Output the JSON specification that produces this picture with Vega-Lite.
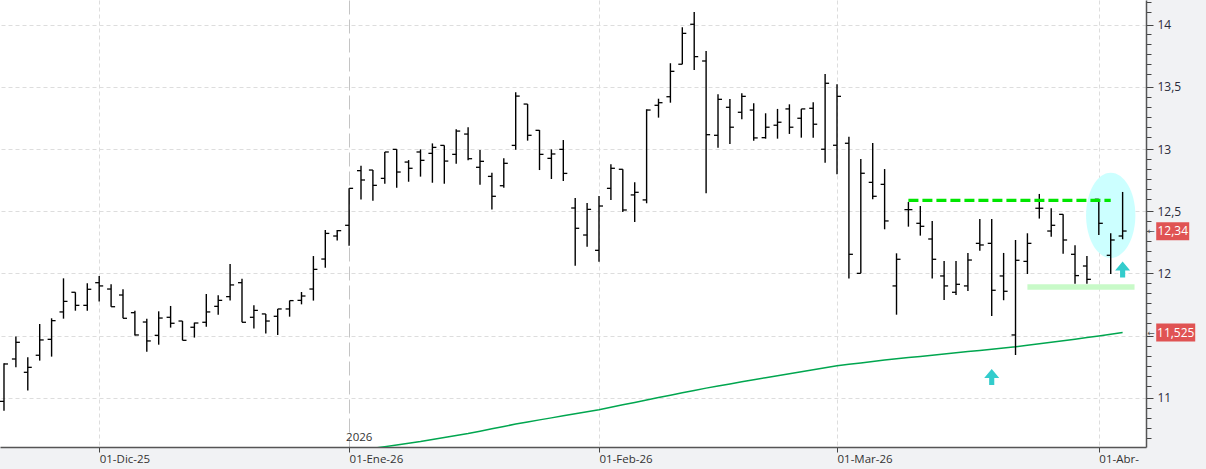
{
"$schema": "https://vega.github.io/schema/vega-lite/v6.json",
"width": 1146, "height": 447,
"autosize": {"type": "none"},
"padding": {"left": 0, "top": 0, "right": 60, "bottom": 22},
"background": "#f1f2f4",
"config": {"view": {"fill": "white", "stroke": null}},
"datasets": {
"bars": [
{"d":"2025-11-19","o":10.973,"h":11.278,"l":10.898,"c":11.273},
{"d":"2025-11-20","o":11.313,"h":11.493,"l":11.246,"c":11.447},
{"d":"2025-11-21","o":11.206,"h":11.327,"l":11.059,"c":11.246},
{"d":"2025-11-24","o":11.343,"h":11.594,"l":11.300,"c":11.466},
{"d":"2025-11-25","o":11.471,"h":11.640,"l":11.332,"c":11.621},
{"d":"2025-11-26","o":11.691,"h":11.961,"l":11.637,"c":11.776},
{"d":"2025-11-27","o":11.849,"h":11.849,"l":11.701,"c":11.744},
{"d":"2025-11-28","o":11.744,"h":11.921,"l":11.701,"c":11.873},
{"d":"2025-12-01","o":11.926,"h":11.980,"l":11.774,"c":11.900},
{"d":"2025-12-02","o":11.875,"h":11.913,"l":11.733,"c":11.733},
{"d":"2025-12-03","o":11.827,"h":11.873,"l":11.640,"c":11.640},
{"d":"2025-12-04","o":11.685,"h":11.701,"l":11.501,"c":11.506},
{"d":"2025-12-05","o":11.610,"h":11.637,"l":11.372,"c":11.458},
{"d":"2025-12-08","o":11.503,"h":11.696,"l":11.428,"c":11.642},
{"d":"2025-12-09","o":11.648,"h":11.739,"l":11.565,"c":11.600},
{"d":"2025-12-10","o":11.618,"h":11.618,"l":11.463,"c":11.463},
{"d":"2025-12-11","o":11.568,"h":11.605,"l":11.485,"c":11.602},
{"d":"2025-12-12","o":11.608,"h":11.835,"l":11.573,"c":11.691},
{"d":"2025-12-15","o":11.736,"h":11.825,"l":11.669,"c":11.784},
{"d":"2025-12-16","o":11.814,"h":12.076,"l":11.782,"c":11.908},
{"d":"2025-12-17","o":11.926,"h":11.958,"l":11.608,"c":11.608},
{"d":"2025-12-18","o":11.648,"h":11.744,"l":11.557,"c":11.704},
{"d":"2025-12-19","o":11.675,"h":11.675,"l":11.517,"c":11.618},
{"d":"2025-12-22","o":11.656,"h":11.715,"l":11.506,"c":11.715},
{"d":"2025-12-23","o":11.715,"h":11.782,"l":11.653,"c":11.782},
{"d":"2025-12-24","o":11.784,"h":11.851,"l":11.752,"c":11.819},
{"d":"2025-12-29","o":11.875,"h":12.140,"l":11.782,"c":12.033},
{"d":"2025-12-30","o":12.116,"h":12.349,"l":12.047,"c":12.322},
{"d":"2025-12-31","o":12.301,"h":12.349,"l":12.264,"c":12.344},
{"d":"2026-01-02","o":12.387,"h":12.684,"l":12.223,"c":12.684},
{"d":"2026-01-05","o":12.826,"h":12.866,"l":12.595,"c":12.751},
{"d":"2026-01-06","o":12.831,"h":12.831,"l":12.585,"c":12.708,"ma":10.595},
{"d":"2026-01-07","o":12.764,"h":12.976,"l":12.721,"c":12.976,"ma":10.609},
{"d":"2026-01-08","o":12.997,"h":12.997,"l":12.689,"c":12.815,"ma":10.623},
{"d":"2026-01-09","o":12.895,"h":12.911,"l":12.737,"c":12.845,"ma":10.637},
{"d":"2026-01-12","o":12.976,"h":12.997,"l":12.778,"c":12.909,"ma":10.650},
{"d":"2026-01-13","o":12.965,"h":13.045,"l":12.729,"c":13.013,"ma":10.666},
{"d":"2026-01-14","o":13.029,"h":13.029,"l":12.721,"c":12.903,"ma":10.682},
{"d":"2026-01-15","o":12.957,"h":13.158,"l":12.882,"c":13.144,"ma":10.698},
{"d":"2026-01-16","o":13.120,"h":13.174,"l":12.909,"c":12.922,"ma":10.714},
{"d":"2026-01-19","o":12.853,"h":12.992,"l":12.713,"c":12.901,"ma":10.733},
{"d":"2026-01-20","o":12.780,"h":12.810,"l":12.513,"c":12.620,"ma":10.752},
{"d":"2026-01-21","o":12.705,"h":12.925,"l":12.689,"c":12.885,"ma":10.771},
{"d":"2026-01-22","o":13.029,"h":13.455,"l":12.994,"c":13.425,"ma":10.790},
{"d":"2026-01-23","o":13.361,"h":13.361,"l":13.067,"c":13.110,"ma":10.807},
{"d":"2026-01-26","o":13.150,"h":13.152,"l":12.831,"c":12.957,"ma":10.824},
{"d":"2026-01-27","o":12.925,"h":12.997,"l":12.759,"c":12.960,"ma":10.840},
{"d":"2026-01-28","o":12.997,"h":13.072,"l":12.743,"c":12.804,"ma":10.857},
{"d":"2026-01-29","o":12.526,"h":12.606,"l":12.063,"c":12.363,"ma":10.873},
{"d":"2026-01-30","o":12.309,"h":12.566,"l":12.215,"c":12.515,"ma":10.890},
{"d":"2026-02-02","o":12.186,"h":12.623,"l":12.095,"c":12.542,"ma":10.906},
{"d":"2026-02-03","o":12.684,"h":12.877,"l":12.591,"c":12.845,"ma":10.926},
{"d":"2026-02-04","o":12.837,"h":12.837,"l":12.494,"c":12.510,"ma":10.945},
{"d":"2026-02-05","o":12.631,"h":12.733,"l":12.414,"c":12.652,"ma":10.964},
{"d":"2026-02-06","o":12.591,"h":13.319,"l":12.564,"c":13.313,"ma":10.984},
{"d":"2026-02-09","o":13.351,"h":13.404,"l":13.252,"c":13.372,"ma":11.003},
{"d":"2026-02-10","o":13.420,"h":13.689,"l":13.372,"c":13.624,"ma":11.022},
{"d":"2026-02-11","o":13.681,"h":13.978,"l":13.681,"c":13.929,"ma":11.042},
{"d":"2026-02-12","o":14.002,"h":14.101,"l":13.635,"c":13.742,"ma":11.060},
{"d":"2026-02-13","o":13.707,"h":13.787,"l":12.644,"c":13.115,"ma":11.079},
{"d":"2026-02-16","o":13.110,"h":13.440,"l":13.011,"c":13.399,"ma":11.096},
{"d":"2026-02-17","o":13.335,"h":13.402,"l":13.040,"c":13.175,"ma":11.113},
{"d":"2026-02-18","o":13.295,"h":13.448,"l":13.239,"c":13.423,"ma":11.130},
{"d":"2026-02-19","o":13.313,"h":13.367,"l":13.067,"c":13.089,"ma":11.147},
{"d":"2026-02-20","o":13.091,"h":13.287,"l":13.083,"c":13.175,"ma":11.162},
{"d":"2026-02-23","o":13.191,"h":13.322,"l":13.083,"c":13.215,"ma":11.179},
{"d":"2026-02-24","o":13.322,"h":13.359,"l":13.121,"c":13.175,"ma":11.195},
{"d":"2026-02-25","o":13.247,"h":13.322,"l":13.091,"c":13.322,"ma":11.211},
{"d":"2026-02-26","o":13.327,"h":13.375,"l":13.091,"c":13.199,"ma":11.227},
{"d":"2026-02-27","o":12.998,"h":13.603,"l":12.890,"c":13.528,"ma":11.243},
{"d":"2026-03-02","o":13.030,"h":13.520,"l":12.797,"c":13.423,"ma":11.258},
{"d":"2026-03-03","o":13.046,"h":13.099,"l":11.959,"c":12.154,"ma":11.270},
{"d":"2026-03-04","o":12.001,"h":12.920,"l":12.001,"c":12.805,"ma":11.281},
{"d":"2026-03-05","o":12.732,"h":13.048,"l":12.596,"c":12.620,"ma":11.292},
{"d":"2026-03-06","o":12.716,"h":12.839,"l":12.355,"c":12.422,"ma":11.304},
{"d":"2026-03-09","o":11.900,"h":12.162,"l":11.669,"c":12.114,"ma":11.315},
{"d":"2026-03-10","o":12.513,"h":12.574,"l":12.376,"c":12.513,"ma":11.325},
{"d":"2026-03-11","o":12.403,"h":12.542,"l":12.304,"c":12.379,"ma":11.334},
{"d":"2026-03-12","o":12.277,"h":12.422,"l":11.959,"c":12.114,"ma":11.344},
{"d":"2026-03-13","o":11.980,"h":12.100,"l":11.787,"c":11.900,"ma":11.354},
{"d":"2026-03-16","o":11.849,"h":12.100,"l":11.827,"c":11.913,"ma":11.363},
{"d":"2026-03-17","o":11.900,"h":12.165,"l":11.860,"c":12.108,"ma":11.373},
{"d":"2026-03-18","o":12.242,"h":12.438,"l":12.183,"c":12.229,"ma":11.382},
{"d":"2026-03-19","o":12.242,"h":12.438,"l":11.659,"c":11.865,"ma":11.392},
{"d":"2026-03-20","o":11.980,"h":12.165,"l":11.785,"c":11.857,"ma":11.402},
{"d":"2026-03-23","o":11.506,"h":12.269,"l":11.345,"c":12.106,"ma":11.411},
{"d":"2026-03-24","o":12.098,"h":12.323,"l":11.996,"c":12.242,"ma":11.423},
{"d":"2026-03-25","o":12.524,"h":12.639,"l":12.441,"c":12.524,"ma":11.436},
{"d":"2026-03-26","o":12.341,"h":12.524,"l":12.296,"c":12.387,"ma":11.448},
{"d":"2026-03-27","o":12.475,"h":12.475,"l":12.159,"c":12.269,"ma":11.460},
{"d":"2026-03-30","o":12.154,"h":12.226,"l":11.918,"c":11.983,"ma":11.472},
{"d":"2026-03-31","o":12.060,"h":12.141,"l":11.918,"c":11.953,"ma":11.485},
{"d":"2026-04-01","o":12.596,"h":12.596,"l":12.309,"c":12.403,"ma":11.497},
{"d":"2026-04-02","o":12.146,"h":12.323,"l":11.996,"c":12.269,"ma":11.511},
{"d":"2026-04-07","o":12.301,"h":12.655,"l":12.275,"c":12.341,"ma":11.525}
]
},
"encoding": {
"x": {"field": "d", "type": "ordinal",
 "scale": {"type": "point", "padding": 0.65, "align": 0.258, "domain": ["2025-11-19","2025-11-20","2025-11-21","2025-11-24","2025-11-25","2025-11-26","2025-11-27","2025-11-28","2025-12-01","2025-12-02","2025-12-03","2025-12-04","2025-12-05","2025-12-08","2025-12-09","2025-12-10","2025-12-11","2025-12-12","2025-12-15","2025-12-16","2025-12-17","2025-12-18","2025-12-19","2025-12-22","2025-12-23","2025-12-24","2025-12-29","2025-12-30","2025-12-31","2026-01-02","2026-01-05","2026-01-06","2026-01-07","2026-01-08","2026-01-09","2026-01-12","2026-01-13","2026-01-14","2026-01-15","2026-01-16","2026-01-19","2026-01-20","2026-01-21","2026-01-22","2026-01-23","2026-01-26","2026-01-27","2026-01-28","2026-01-29","2026-01-30","2026-02-02","2026-02-03","2026-02-04","2026-02-05","2026-02-06","2026-02-09","2026-02-10","2026-02-11","2026-02-12","2026-02-13","2026-02-16","2026-02-17","2026-02-18","2026-02-19","2026-02-20","2026-02-23","2026-02-24","2026-02-25","2026-02-26","2026-02-27","2026-03-02","2026-03-03","2026-03-04","2026-03-05","2026-03-06","2026-03-09","2026-03-10","2026-03-11","2026-03-12","2026-03-13","2026-03-16","2026-03-17","2026-03-18","2026-03-19","2026-03-20","2026-03-23","2026-03-24","2026-03-25","2026-03-26","2026-03-27","2026-03-30","2026-03-31","2026-04-01","2026-04-02","2026-04-07","2026-04-08"]},
 "axis": {"title": null, "values": ["2025-12-01","2026-01-02","2026-02-02","2026-03-02","2026-04-01"],
  "labelExpr": "datum.value == '2025-12-01' ? '01-Dic-25' : datum.value == '2026-01-02' ? '01-Ene-26' : datum.value == '2026-02-02' ? '01-Feb-26' : datum.value == '2026-03-02' ? '01-Mar-26' : '01-Abr-'",
  "labelAlign": "left", "labelAngle": 0, "labelFont": "Open Sans", "labelFontSize": 11.5, "labelColor": "#333333",
  "labelPadding": 1, "labelOverlap": false, "labelFlush": false, "labelBound": false,
  "tickSize": 5, "tickColor": "#444444", "domainColor": "#555555", "domainWidth": 1.5,
  "grid": true, "gridWidth": 1,
  "gridColor": {"condition": {"test": "datum.value == '2026-01-02'", "value": "#c4c4c4"}, "value": "#dddddd"},
  "gridDash": {"condition": {"test": "datum.value == '2026-01-02'", "value": [14, 5]}, "value": [4, 3]}
 }
},
"y": {"field": "v", "type": "quantitative", "scale": {"domain": [10.606, 14.197], "nice": false, "zero": false},
  "axis": {"title": null, "orient": "right",
   "values": [10.68,10.76,10.84,10.92,11,11.1,11.18,11.26,11.34,11.42,11.5,11.6,11.68,11.76,11.84,11.92,12,12.1,12.18,12.26,12.34,12.42,12.5,12.6,12.68,12.76,12.84,12.92,13,13.1,13.18,13.26,13.34,13.42,13.5,13.6,13.68,13.76,13.84,13.92,14,14.1,14.18],
   "labelExpr": "abs(datum.value*2 - round(datum.value*2)) < 0.001 && abs(datum.value - 11.5) > 0.001 ? replace(toString(round(datum.value*2)/2), '.', ',') : ''",
   "labelFont": "Open Sans", "labelFontSize": 12, "labelColor": "#2b2b3a", "labelPadding": 4,
   "labelOverlap": false, "labelFlush": false, "labelBound": false,
   "tickSize": {"condition": {"test": "abs(datum.value*2 - round(datum.value*2)) < 0.001", "value": 7}, "value": 5},
   "tickColor": "#444444", "domainColor": "#555555", "domainWidth": 1.5,
   "grid": true, "gridColor": "#dddddd", "gridDash": [4, 3], "gridWidth": 1,
   "gridOpacity": {"condition": {"test": "abs(datum.value*2 - round(datum.value*2)) < 0.001", "value": 1}, "value": 0}
  }}
},
"layer": [
{
 "data": {"values": [{"d": "2026-04-02", "v": 12.467}]},
 "mark": {"type": "point", "filled": true, "opacity": 1, "color": "#ccffff", "size": 7276, "shape": "M-0.578,0 A0.578,1 0 1,0 0.578,0 A0.578,1 0 1,0 -0.578,0 Z"}
},
{
 "data": {"values": [{"d": "2026-03-24", "d2": "2026-04-08", "v": 11.892}]},
 "mark": {"type": "rule", "color": "#c8fac8", "strokeWidth": 5.5},
 "encoding": {"x2": {"field": "d2"}}
},
{
 "data": {"name": "bars"},
 "transform": [{"filter": "isValid(datum.ma)"}],
 "mark": {"type": "line", "color": "#00a64f", "strokeWidth": 1.5, "clip": true},
 "encoding": {"y": {"field": "ma", "type": "quantitative", "scale": {"domain": [10.606, 14.197], "nice": false, "zero": false},
  "axis": {"title": null, "orient": "right",
   "values": [10.68,10.76,10.84,10.92,11,11.1,11.18,11.26,11.34,11.42,11.5,11.6,11.68,11.76,11.84,11.92,12,12.1,12.18,12.26,12.34,12.42,12.5,12.6,12.68,12.76,12.84,12.92,13,13.1,13.18,13.26,13.34,13.42,13.5,13.6,13.68,13.76,13.84,13.92,14,14.1,14.18],
   "labelExpr": "abs(datum.value*2 - round(datum.value*2)) < 0.001 && abs(datum.value - 11.5) > 0.001 ? replace(toString(round(datum.value*2)/2), '.', ',') : ''",
   "labelFont": "Open Sans", "labelFontSize": 12, "labelColor": "#2b2b3a", "labelPadding": 4,
   "labelOverlap": false, "labelFlush": false, "labelBound": false,
   "tickSize": {"condition": {"test": "abs(datum.value*2 - round(datum.value*2)) < 0.001", "value": 7}, "value": 5},
   "tickColor": "#444444", "domainColor": "#555555", "domainWidth": 1.5,
   "grid": true, "gridColor": "#dddddd", "gridDash": [4, 3], "gridWidth": 1,
   "gridOpacity": {"condition": {"test": "abs(datum.value*2 - round(datum.value*2)) < 0.001", "value": 1}, "value": 0}
  }}}
},
{
 "data": {"name": "bars"},
 "mark": {"type": "rule", "color": "#000000", "strokeWidth": 1.4},
 "encoding": {"y": {"field": "l", "type": "quantitative", "scale": {"domain": [10.606, 14.197], "nice": false, "zero": false},
  "axis": {"title": null, "orient": "right",
   "values": [10.68,10.76,10.84,10.92,11,11.1,11.18,11.26,11.34,11.42,11.5,11.6,11.68,11.76,11.84,11.92,12,12.1,12.18,12.26,12.34,12.42,12.5,12.6,12.68,12.76,12.84,12.92,13,13.1,13.18,13.26,13.34,13.42,13.5,13.6,13.68,13.76,13.84,13.92,14,14.1,14.18],
   "labelExpr": "abs(datum.value*2 - round(datum.value*2)) < 0.001 && abs(datum.value - 11.5) > 0.001 ? replace(toString(round(datum.value*2)/2), '.', ',') : ''",
   "labelFont": "Open Sans", "labelFontSize": 12, "labelColor": "#2b2b3a", "labelPadding": 4,
   "labelOverlap": false, "labelFlush": false, "labelBound": false,
   "tickSize": {"condition": {"test": "abs(datum.value*2 - round(datum.value*2)) < 0.001", "value": 7}, "value": 5},
   "tickColor": "#444444", "domainColor": "#555555", "domainWidth": 1.5,
   "grid": true, "gridColor": "#dddddd", "gridDash": [4, 3], "gridWidth": 1,
   "gridOpacity": {"condition": {"test": "abs(datum.value*2 - round(datum.value*2)) < 0.001", "value": 1}, "value": 0}
  }}, "y2": {"field": "h"}}
},
{
 "data": {"name": "bars"},
 "mark": {"type": "tick", "orient": "horizontal", "size": 4, "thickness": 1.3, "color": "#000000", "opacity": 1, "xOffset": -2},
 "encoding": {"y": {"field": "o", "type": "quantitative", "scale": {"domain": [10.606, 14.197], "nice": false, "zero": false},
  "axis": {"title": null, "orient": "right",
   "values": [10.68,10.76,10.84,10.92,11,11.1,11.18,11.26,11.34,11.42,11.5,11.6,11.68,11.76,11.84,11.92,12,12.1,12.18,12.26,12.34,12.42,12.5,12.6,12.68,12.76,12.84,12.92,13,13.1,13.18,13.26,13.34,13.42,13.5,13.6,13.68,13.76,13.84,13.92,14,14.1,14.18],
   "labelExpr": "abs(datum.value*2 - round(datum.value*2)) < 0.001 && abs(datum.value - 11.5) > 0.001 ? replace(toString(round(datum.value*2)/2), '.', ',') : ''",
   "labelFont": "Open Sans", "labelFontSize": 12, "labelColor": "#2b2b3a", "labelPadding": 4,
   "labelOverlap": false, "labelFlush": false, "labelBound": false,
   "tickSize": {"condition": {"test": "abs(datum.value*2 - round(datum.value*2)) < 0.001", "value": 7}, "value": 5},
   "tickColor": "#444444", "domainColor": "#555555", "domainWidth": 1.5,
   "grid": true, "gridColor": "#dddddd", "gridDash": [4, 3], "gridWidth": 1,
   "gridOpacity": {"condition": {"test": "abs(datum.value*2 - round(datum.value*2)) < 0.001", "value": 1}, "value": 0}
  }}}
},
{
 "data": {"name": "bars"},
 "mark": {"type": "tick", "orient": "horizontal", "size": 4, "thickness": 1.3, "color": "#000000", "opacity": 1, "xOffset": 2},
 "encoding": {"y": {"field": "c", "type": "quantitative", "scale": {"domain": [10.606, 14.197], "nice": false, "zero": false},
  "axis": {"title": null, "orient": "right",
   "values": [10.68,10.76,10.84,10.92,11,11.1,11.18,11.26,11.34,11.42,11.5,11.6,11.68,11.76,11.84,11.92,12,12.1,12.18,12.26,12.34,12.42,12.5,12.6,12.68,12.76,12.84,12.92,13,13.1,13.18,13.26,13.34,13.42,13.5,13.6,13.68,13.76,13.84,13.92,14,14.1,14.18],
   "labelExpr": "abs(datum.value*2 - round(datum.value*2)) < 0.001 && abs(datum.value - 11.5) > 0.001 ? replace(toString(round(datum.value*2)/2), '.', ',') : ''",
   "labelFont": "Open Sans", "labelFontSize": 12, "labelColor": "#2b2b3a", "labelPadding": 4,
   "labelOverlap": false, "labelFlush": false, "labelBound": false,
   "tickSize": {"condition": {"test": "abs(datum.value*2 - round(datum.value*2)) < 0.001", "value": 7}, "value": 5},
   "tickColor": "#444444", "domainColor": "#555555", "domainWidth": 1.5,
   "grid": true, "gridColor": "#dddddd", "gridDash": [4, 3], "gridWidth": 1,
   "gridOpacity": {"condition": {"test": "abs(datum.value*2 - round(datum.value*2)) < 0.001", "value": 1}, "value": 0}
  }}}
},
{
 "data": {"values": [{"d": "2026-03-10", "d2": "2026-04-02", "v": 12.588}]},
 "mark": {"type": "rule", "color": "#00e600", "strokeWidth": 3.3, "strokeDash": [10, 4]},
 "encoding": {"x2": {"field": "d2"}}
},
{
 "data": {"values": [{"d": "2026-03-19", "v": 11.169}, {"d": "2026-04-07", "v": 12.031}]},
 "mark": {"type": "point", "filled": true, "opacity": 1, "color": "#33cccc", "size": 256, "shape": "M0,-1 L0.94,0.12 L0.32,0.12 L0.32,1 L-0.32,1 L-0.32,0.12 L-0.94,0.12 Z"}
},
{
 "data": {"values": [{"d": "2026-04-08", "v": 12.34}]},
 "mark": {"type": "point", "filled": true, "opacity": 1, "color": "#e05353", "size": 1089, "xOffset": 38.2, "shape": "M-1,-0.545 H1 V0.545 H-1 Z"}
},
{
 "data": {"values": [{"d": "2026-04-08", "v": 11.525}]},
 "mark": {"type": "point", "filled": true, "opacity": 1, "color": "#e05353", "size": 1521, "xOffset": 41.2, "shape": "M-1,-0.4615 H1 V0.4615 H-1 Z"}
},
{
 "data": {"values": [{"d": "2026-04-08", "v": 12.34, "t": "12,34"}]},
 "mark": {"type": "text", "color": "white", "font": "Open Sans", "fontSize": 12, "align": "center", "baseline": "middle", "xOffset": 38.2},
 "encoding": {"text": {"field": "t"}}
},
{
 "data": {"values": [{"d": "2026-04-08", "v": 11.525, "t": "11,525"}]},
 "mark": {"type": "text", "color": "white", "font": "Open Sans", "fontSize": 12, "align": "center", "baseline": "middle", "xOffset": 41.2},
 "encoding": {"text": {"field": "t"}}
},
{
 "data": {"values": [{"d": "2026-04-08", "v": 12.34, "t": "←"}, {"d": "2026-04-08", "v": 11.525, "t": "←"}]},
 "mark": {"type": "text", "color": "#555555", "font": "DejaVu Sans", "fontSize": 9, "align": "center", "baseline": "middle", "xOffset": 16.5},
 "encoding": {"text": {"field": "t"}}
},
{
 "data": {"values": [{"d": "2026-01-02", "v": 10.679, "t": "2026"}]},
 "mark": {"type": "text", "color": "#333333", "font": "Open Sans", "fontSize": 11.5, "align": "left", "baseline": "middle", "dx": -3},
 "encoding": {"text": {"field": "t"}}
}
]
}
